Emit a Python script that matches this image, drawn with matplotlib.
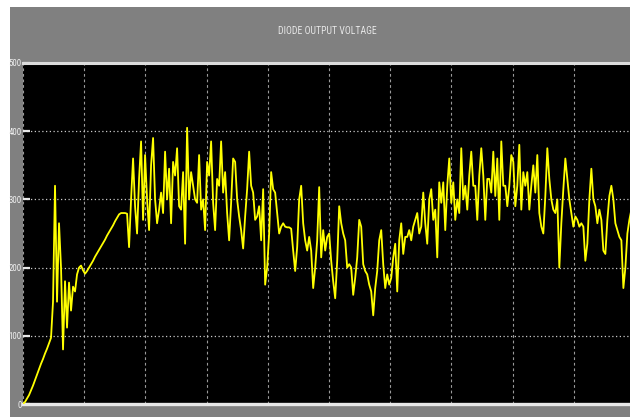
import numpy as np
import matplotlib
matplotlib.use("Agg")
import matplotlib.pyplot as plt
from matplotlib.patches import Rectangle
from matplotlib import font_manager

# ---------------- data ----------------
title = "DIODE OUTPUT VOLTAGE"
y_ticks = [0, 100, 200, 300, 400, 500]
y_tick_labels = ["0", "100", "200", "300", "400", "500"]
x_grid = [0, 1, 2, 3, 4, 5, 6, 7, 8, 9, 10]
dt = 0.0327  # time between samples (one sample every ~2 px of the reference)

voltage = [
    # start-up ramp
    0, 3, 8, 13, 20, 27, 35, 43, 51, 59, 66, 74, 81, 89, 97,
    # first overshoot and ringing
    150, 320, 150, 265, 200, 80, 180, 112, 178, 137, 172, 165, 190, 200, 203, 196, 191,
    # smooth rise
    195, 200, 205, 210, 216, 221, 226, 231, 236, 241, 247, 252, 257, 262, 268, 273, 278, 280, 280, 280, 279,
    # noisy plateau
    230, 300, 360, 290, 250, 330, 385, 270, 365, 300, 255, 350, 390, 300, 265, 285, 310, 280, 370, 300,
    345, 265, 355, 335, 375, 290, 285, 340, 235, 405, 300, 340, 320, 300, 295, 365, 285, 300, 255, 355,
    335, 385, 295, 255, 330, 320, 385, 310, 340, 280,
    240, 295, 360, 355, 300, 275, 255, 228, 275, 315, 370, 320, 310, 270, 275, 290, 240, 315, 175, 200,
    250, 340, 315, 310, 280, 250, 260, 265, 260, 259, 259, 257, 225, 195, 230, 300, 320, 265, 240, 225,
    245, 225, 170, 200, 240, 318, 215, 255, 225, 245,
    250, 210, 180, 155, 210, 290, 265, 250, 240, 200, 205, 200, 160, 185, 215, 270, 260, 205, 195, 190,
    175, 165, 130, 170, 195, 240, 255, 205, 170, 190, 175, 185, 215, 235, 165, 240, 265, 220, 245, 245,
    255, 240, 260, 270, 280, 250, 260, 310, 265, 235,
    300, 315, 270, 285, 215, 325, 295, 325, 255, 320, 360, 295, 325, 270, 300, 280, 375, 300, 320, 285,
    335, 370, 320, 320, 270, 335, 375, 335, 270, 330, 330, 310, 370, 305, 360, 270, 385, 320, 320, 290,
    320, 365, 355, 290, 320, 380, 285, 340, 320, 340,
    285, 320, 350, 310, 365, 280, 260, 250, 305, 375, 330, 300, 285, 280, 300, 200, 265, 315, 360, 330,
    300, 280, 260, 275, 270, 260, 265, 260, 210, 235, 300, 345, 300, 290, 265, 285, 270, 225, 220, 270,
    305, 320, 300, 265, 255, 245, 240, 170, 200, 250, 270, 285, 290,
]

# ---------------- fonts ----------------
def pick_font(cands):
    for c in cands:
        try:
            font_manager.findfont(font_manager.FontProperties(family=c), fallback_to_default=False)
            return c
        except Exception:
            pass
    return "DejaVu Sans"

narrow = pick_font(["Liberation Sans Narrow", "DejaVu Sans Condensed", "Roboto Condensed", "Liberation Sans"])
plt.rcParams['font.family'] = [narrow, 'DejaVu Sans']

# ---------------- figure ----------------
W, H = 630, 417
fig = plt.figure(figsize=(W / 100, H / 100), dpi=100, facecolor='white')
fig.patches.append(Rectangle((10 / W, 0), 1, (H - 7) / H, transform=fig.transFigure,
                             facecolor='#808080', edgecolor='none', zorder=-10))

ax = fig.add_axes([23 / W, 13 / H, 612 / W, 341 / H])
ax.set_facecolor('black')

t = np.arange(len(voltage)) * dt
ax.plot(t, voltage, color='#ffff00', lw=1.3, zorder=3)

ax.set_xlim(0, 10)
ax.set_ylim(0, 500)

ax.set_yticks(y_ticks)
ax.set_yticklabels(y_tick_labels)
ax.set_xticks(x_grid)
ax.set_xticklabels([])

ax.yaxis.grid(True, color='#c8c8c8', linestyle=(0, (1, 2)), lw=0.9)
ax.xaxis.grid(True, color='#9a9a9a', linestyle=(0, (2.5, 2.5)), lw=0.8)

ax.tick_params(axis='y', direction='in', length=5, width=1.6, color='#e6e6e6',
               labelcolor='#f0f0f0', labelsize=6.3, pad=1)
ax.tick_params(axis='x', length=0)

for s in ['left', 'right']:
    ax.spines[s].set_visible(False)
ax.spines['top'].set_color('#dcdcdc')
ax.spines['top'].set_linewidth(2.2)
ax.spines['bottom'].set_color('#e8e8e8')
ax.spines['bottom'].set_linewidth(2.4)

ax.text(0.498, 1 + 32 / 341, title, transform=ax.transAxes, ha='center', va='center',
        color='#e6e6e6', fontsize=7)

fig.savefig('out.png', dpi=100, facecolor='white')
